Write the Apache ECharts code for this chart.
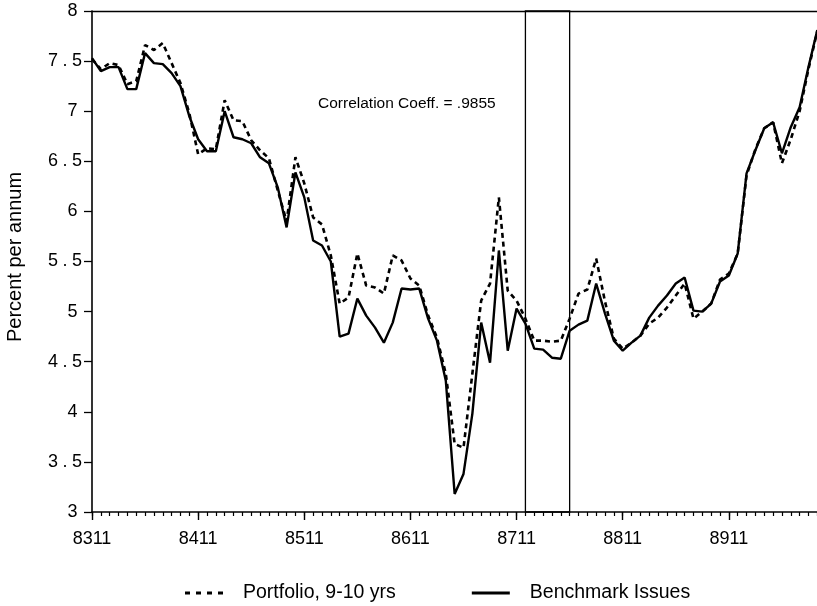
<!DOCTYPE html>
<html>
<head>
<meta charset="utf-8">
<script src="https://cdn.jsdelivr.net/npm/echarts@6.0.0/dist/echarts.min.js"></script>
<style>
  html, body { margin: 0; padding: 0; background: #fff; }
  #chart { width: 817px; height: 606px; }
</style>
</head>
<body>
<div id="chart"></div>
<script>
// months, yymm, one point per month
const months = [
  '8311', '8312',
  '8401', '8402', '8403', '8404', '8405', '8406', '8407', '8408', '8409', '8410', '8411', '8412',
  '8501', '8502', '8503', '8504', '8505', '8506', '8507', '8508', '8509', '8510', '8511', '8512',
  '8601', '8602', '8603', '8604', '8605', '8606', '8607', '8608', '8609', '8610', '8611', '8612',
  '8701', '8702', '8703', '8704', '8705', '8706', '8707', '8708', '8709', '8710', '8711', '8712',
  '8801', '8802', '8803', '8804', '8805', '8806', '8807', '8808', '8809', '8810', '8811', '8812',
  '8901', '8902', '8903', '8904', '8905', '8906', '8907', '8908', '8909', '8910', '8911', '8912',
  '9001', '9002', '9003', '9004', '9005', '9006', '9007', '9008', '9009'
];

const tickLabels = ['8311', '8411', '8511', '8611', '8711', '8811', '8911'];

const portfolio = [
  7.52, 7.42, 7.48, 7.46, 7.27, 7.30, 7.66, 7.61, 7.68, 7.48, 7.28, 6.98,
  6.57, 6.63, 6.62, 7.11, 6.91, 6.90, 6.71, 6.61, 6.53, 6.21, 5.90, 6.54,
  6.28, 5.94, 5.87, 5.56, 5.08, 5.14, 5.58, 5.26, 5.24, 5.18, 5.56, 5.51,
  5.33, 5.26, 4.96, 4.74, 4.38, 3.68, 3.64, 4.38, 5.11, 5.28, 6.14, 5.21,
  5.11, 4.93, 4.71, 4.71, 4.70, 4.71, 4.93, 5.18, 5.22, 5.53, 5.10, 4.73,
  4.63, 4.69, 4.76, 4.88, 4.94, 5.04, 5.16, 5.28, 4.93, 5.00, 5.08, 5.32,
  5.38, 5.58, 6.36, 6.62, 6.83, 6.89, 6.48, 6.72, 7.00, 7.42, 7.80
];

const benchmark = [
  7.53, 7.40, 7.44, 7.44, 7.22, 7.22, 7.58, 7.48, 7.47, 7.38, 7.25, 6.95,
  6.72, 6.60, 6.60, 7.00, 6.74, 6.72, 6.68, 6.54, 6.48, 6.24, 5.84, 6.39,
  6.14, 5.71, 5.66, 5.50, 4.75, 4.78, 5.13, 4.96, 4.84, 4.69, 4.89, 5.23,
  5.22, 5.23, 4.93, 4.71, 4.31, 3.18, 3.38, 3.98, 4.89, 4.49, 5.61, 4.61,
  5.03, 4.88, 4.63, 4.62, 4.54, 4.53, 4.81, 4.87, 4.91, 5.28, 4.98, 4.71,
  4.61, 4.69, 4.76, 4.94, 5.06, 5.16, 5.28, 5.34, 5.01, 5.00, 5.08, 5.30,
  5.36, 5.58, 6.38, 6.61, 6.83, 6.89, 6.58, 6.84, 7.04, 7.44, 7.81
];

// highlighted window
const boxFrom = '8712';
const boxTo = '8805';

const font = "'Liberation Sans', Arial, sans-serif";
const toPairs = (vals) => vals.map((v, i) => [i, v]);

// the old typesetting puts a wide gap round the decimal point
const yLabel = (v) => {
  const s = String(v);
  return s.indexOf('.') >= 0 ? s.replace('.', '\u2005.\u2005') : s + '\u2005';
};

const chart = echarts.init(document.getElementById('chart'), null, { renderer: 'canvas' });

const baseX = {
  type: 'value',
  min: 0,
  max: 84,
  splitLine: { show: false }
};

const option = {
  backgroundColor: '#fff',
  animation: false,
  // plot runs past the right edge of the picture, as in the scan
  grid: { left: 92, top: 11, bottom: 94, width: 743, outerBoundsMode: 'none', containLabel: false },
  legend: {
    left: 180,
    top: 578,
    itemWidth: 38,
    itemHeight: 3,
    itemGap: 76,
    textStyle: { fontFamily: font, fontSize: 19.5, color: '#000', padding: [0, 0, 0, 15] },
    data: [
      { name: 'Portfolio, 9-10 yrs', icon: 'path://M0,0h5v3h-5z M11,0h5v3h-5z M22,0h5v3h-5z M33,0h5v3h-5z' },
      { name: 'Benchmark Issues', icon: 'path://M0,0h38v3h-38z' }
    ]
  },
  xAxis: [
    Object.assign({}, baseX, {
      interval: 12,
      axisLine: { lineStyle: { color: '#000', width: 1.6 } },
      axisTick: { show: true, length: 8, lineStyle: { color: '#000', width: 1.4 } },
      axisLabel: {
        margin: 18,
        color: '#000',
        fontFamily: font,
        fontSize: 18,
        formatter: (v) => (v % 12 === 0 && tickLabels[v / 12]) ? tickLabels[v / 12] : ''
      }
    }),
    // top frame line
    Object.assign({}, baseX, {
      position: 'top',
      axisLine: { show: true, onZero: false, lineStyle: { color: '#000', width: 1.4 } },
      axisTick: { show: false },
      axisLabel: { show: false }
    }),
    // monthly minor ticks
    Object.assign({}, baseX, {
      position: 'bottom',
      interval: 1,
      axisLine: { show: false },
      axisTick: { show: true, length: 4, lineStyle: { color: '#000', width: 1.2 } },
      axisLabel: { show: false }
    })
  ],
  yAxis: {
    type: 'value',
    min: 3,
    max: 8,
    interval: 0.5,
    axisLine: { show: true, lineStyle: { color: '#000', width: 1.6 } },
    axisTick: { show: true, length: 8, lineStyle: { color: '#000', width: 1.3 } },
    splitLine: { show: false },
    axisLabel: { margin: 10, color: '#000', fontFamily: font, fontSize: 18, formatter: yLabel }
  },
  series: [
    {
      name: 'Portfolio, 9-10 yrs',
      type: 'line',
      symbol: 'none',
      data: toPairs(portfolio),
      lineStyle: { color: '#000', width: 2.6, type: [5, 4] },
      itemStyle: { color: '#000' },
      z: 3
    },
    {
      name: 'Benchmark Issues',
      type: 'line',
      symbol: 'none',
      data: toPairs(benchmark),
      lineStyle: { color: '#000', width: 2.4 },
      itemStyle: { color: '#000' },
      z: 4,
      markArea: {
        silent: true,
        itemStyle: { color: 'rgba(0,0,0,0)', borderColor: '#000', borderWidth: 1.3 },
        data: [[{ xAxis: months.indexOf(boxFrom) }, { xAxis: months.indexOf(boxTo) }]]
      }
    }
  ],
  graphic: [
    {
      type: 'text',
      x: 15,
      y: 257,
      rotation: Math.PI / 2,
      style: {
        text: 'Percent per annum',
        font: '20px ' + font,
        fill: '#000',
        align: 'center',
        verticalAlign: 'middle'
      }
    },
    {
      type: 'text',
      left: 318,
      top: 96,
      style: {
        text: 'Correlation Coeff. = .9855',
        font: '15.5px ' + font,
        fill: '#000'
      }
    }
  ]
};

chart.setOption(option);
</script>
</body>
</html>
